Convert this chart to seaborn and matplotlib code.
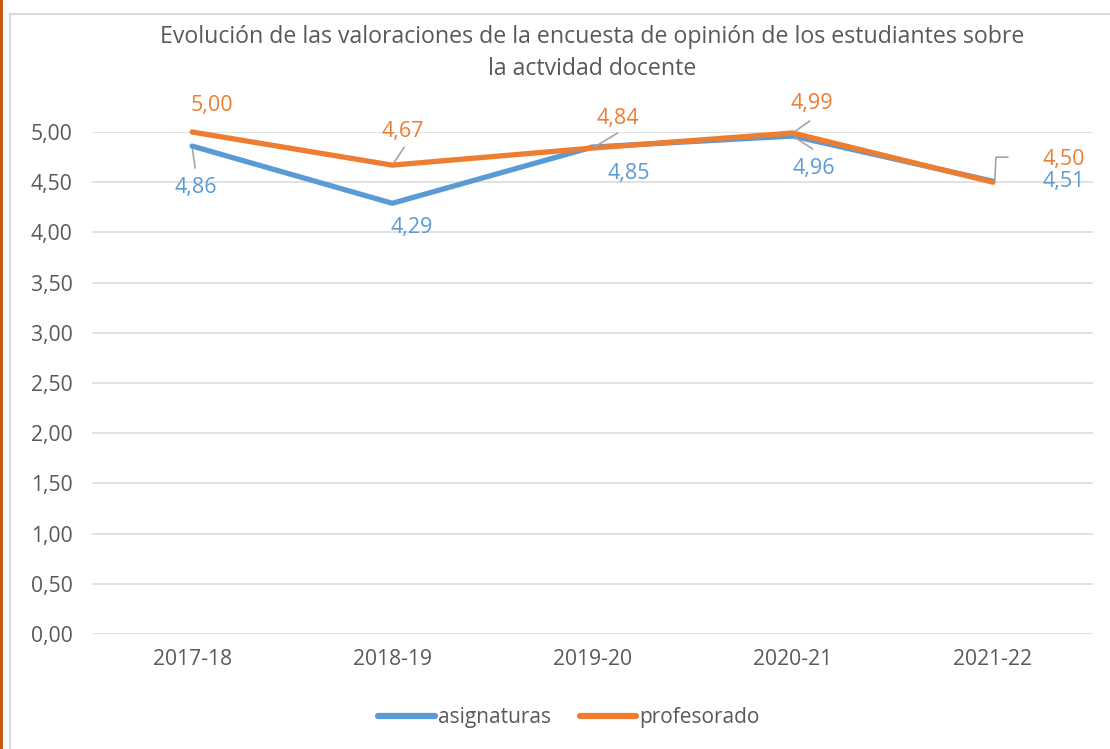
import pandas as pd
import matplotlib.pyplot as plt
import seaborn as sns
from matplotlib.patches import Rectangle
from matplotlib.lines import Line2D

# Data

cursos = ["2017-18", "2018-19", "2019-20", "2020-21", "2021-22"]
asignaturas = [4.86, 4.29, 4.85, 4.96, 4.51]
profesorado = [5.00, 4.67, 4.84, 4.99, 4.50]
yticks = [0, 0.5, 1, 1.5, 2, 2.5, 3, 3.5, 4, 4.5, 5]

df = pd.DataFrame({
    "curso": cursos * 2,
    "valor": asignaturas + profesorado,
    "serie": ["asignaturas"] * 5 + ["profesorado"] * 5,
})

blue = "#5B9BD5"
orange = "#ED7D31"
grey_txt = "#595959"

sns.set_style("white")
plt.rcParams["font.family"] = ["Open Sans", "DejaVu Sans"]

fig = plt.figure(figsize=(11.1, 7.49), dpi=100)
ax = fig.add_axes([92 / 1110, 1 - 634 / 749, 1001 / 1110, 502 / 749])

sns.lineplot(data=df, x="curso", y="valor", hue="serie",
             palette={"asignaturas": blue, "profesorado": orange},
             linewidth=3.8, ax=ax, legend=False, sort=False,
             solid_capstyle="round", solid_joinstyle="round", clip_on=False)

ax.set_xlim(-0.5, 4.5)
ax.set_ylim(0, 5)
ax.set_yticks(yticks)
ax.set_yticklabels([f"{v:.2f}".replace(".", ",") for v in yticks])
ax.grid(axis="y", color="#D9D9D9", linewidth=1.1)
ax.set_axisbelow(True)
for s in ax.spines.values():
    s.set_visible(False)
ax.tick_params(axis="y", length=0, pad=14, labelsize=15.2, labelcolor=grey_txt)
ax.tick_params(axis="x", length=0, pad=11, labelsize=15.2, labelcolor=grey_txt)
ax.set_xlabel("")
ax.set_ylabel("")

# Data labels (offsets in pixels from the point)
lab_off_asig = [(4, -41), (19, -24), (36, -26), (21, -32), (71, 0)]
lab_off_prof = [(20, 27), (10, 34), (25, 30), (19, 30), (71, 23)]
lead_asig = [(3, -22), None, None, (20, -13), None]
lead_prof = [None, (12, 18), (25, 15), (17, 12), None]

def fmt(v):
    return f"{v:.2f}".replace(".", ",")

for i in range(5):
    for vals, offs, leads, col in [(asignaturas, lab_off_asig, lead_asig, blue),
                                    (profesorado, lab_off_prof, lead_prof, orange)]:
        if leads[i] is not None:
            ax.annotate("", xy=(i, vals[i]), xytext=leads[i], textcoords="offset pixels",
                        arrowprops=dict(arrowstyle="-", color="#A5A5A5", lw=1.2,
                                        shrinkA=0, shrinkB=2))
        ax.annotate(fmt(vals[i]), xy=(i, vals[i]), xytext=offs[i], textcoords="offset pixels",
                    ha="center", va="center", fontsize=15.5, color=col)

# elbow leader for 4,50
x0, y0 = ax.transData.transform((4, profesorado[4]))
inv = fig.transFigure.inverted()
pts = [(x0 + 2, y0 + 2), (x0 + 3, y0 + 25), (x0 + 15, y0 + 25)]
pts = [inv.transform(p) for p in pts]
fig.add_artist(Line2D([p[0] for p in pts], [p[1] for p in pts], color="#A5A5A5", lw=1.2))

# Title
fig.text(592 / 1110, 1 - 37 / 749, "Evolución de las valoraciones de la encuesta de opinión de los estudiantes sobre",
         ha="center", va="center", fontsize=16.7, color=grey_txt)
fig.text(592 / 1110, 1 - 69 / 749, "la actvidad docente",
         ha="center", va="center", fontsize=16.7, color=grey_txt)

# Legend
handles = [Line2D([], [], color=blue, lw=4.5, solid_capstyle="round"),
           Line2D([], [], color=orange, lw=4.5, solid_capstyle="round")]
fig.legend(handles, ["asignaturas", "profesorado"], loc="center", bbox_to_anchor=(569 / 1110, 1 - 718 / 749),
           ncol=2, frameon=False, fontsize=15, handlelength=2.7, handletextpad=0.15,
           columnspacing=1.4, labelcolor=grey_txt)

# Chart frame and left bar
fig.add_artist(Rectangle((10 / 1110, -0.1), 1.2, 1 - 14 / 749 + 0.1, transform=fig.transFigure,
                         fill=False, edgecolor="#D9D9D9", lw=1.5))
fig.add_artist(Rectangle((0, 0), 3 / 1110, 1, transform=fig.transFigure,
                         facecolor="#C55A11", edgecolor="none"))

fig.savefig("out.png", dpi=100)
